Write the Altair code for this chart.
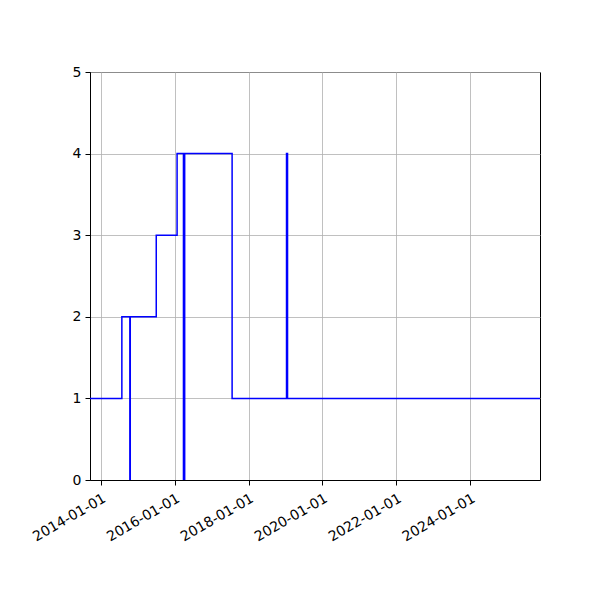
import altair as alt
import pandas as pd

dates = [
    "2013-09-16", "2014-07-28", "2014-10-15", "2014-10-19", "2015-07-03",
    "2016-01-25", "2016-03-28", "2016-04-09", "2017-07-22", "2019-01-11",
    "2019-01-21", "2025-11-21",
]
values = [1, 2, 0, 2, 3, 4, 0, 4, 1, 4, 1, 1]
tick_years = [2014, 2016, 2018, 2020, 2022, 2024]

df = pd.DataFrame({"date": dates, "value": values})

x_domain = [alt.DateTime(year=2013, month=9, date=16, utc=True),
            alt.DateTime(year=2025, month=11, date=21, utc=True)]
tick_vals = [alt.DateTime(year=y, month=1, date=1, utc=True) for y in tick_years]

chart = alt.Chart(df).mark_line(
    interpolate="step-after", color="#0000ff", strokeWidth=1.5, clip=True
).encode(
    x=alt.X("date:T", scale=alt.Scale(type="utc", domain=x_domain),
            axis=alt.Axis(values=tick_vals,
                          labelExpr="utcFormat(datum.value, '%Y-%m-%d')",
                          labelAngle=-30, labelAlign="right", labelBaseline="top",
                          labelPadding=6, title=None)),
    y=alt.Y("value:Q", scale=alt.Scale(domain=[0, 5], nice=False),
            axis=alt.Axis(values=[0, 1, 2, 3, 4, 5], title=None, labelPadding=4)),
).properties(
    width=450, height=408,
    autosize=alt.AutoSizeParams(type="none"),
    padding={"left": 82, "top": 64, "right": 52, "bottom": 112},
).configure_axis(
    grid=True, gridColor="#b0b0b0", gridWidth=0.8,
    domainColor="black", domainWidth=1, tickColor="black", tickSize=5, tickWidth=1,
    labelFont="DejaVu Sans", labelFontSize=14, labelColor="black",
    labelOverlap=False, labelFlush=False,
).configure_view(stroke="black", strokeWidth=1)

chart.save("out.html", embed_options={"renderer": "svg", "actions": False})
